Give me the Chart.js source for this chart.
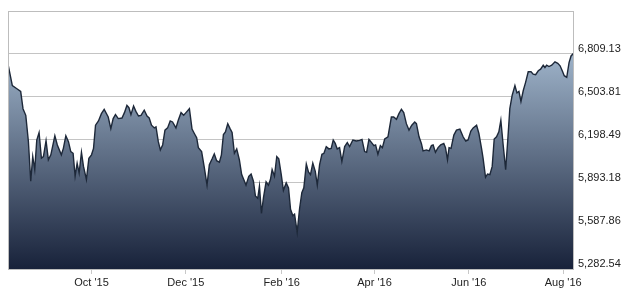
<!DOCTYPE html>
<html>
<head>
<meta charset="utf-8">
<script src="https://cdn.jsdelivr.net/npm/chart.js@4"></script>
<style>
  html, body { margin: 0; padding: 0; background: #fff; }
  #wrap { width: 624px; height: 294px; }
</style>
</head>
<body>
<div id="wrap"><canvas id="indexChart"></canvas></div>
<script>
// days since 8 Aug 2015
const days = [
  0, 2.8, 6.0, 8.2, 9.7, 11.5, 13.2, 14.7, 16.0, 17.3, 18.6, 20.1, 21.6, 22.9, 24.6, 26.1, 27.7, 30.3, 31.9, 34.5,
  35.8, 37.4, 39.1, 40.6, 42.1, 43.4, 44.7, 46.0, 47.5, 48.8, 50.7, 52.3, 54.0, 55.3, 56.6, 58.5, 60.4, 62.2, 64.8, 66.5,
  68.0, 69.5, 71.3, 73.7, 75.3, 76.9, 78.2, 79.5, 81.2, 82.7, 84.4, 86.0, 88.1, 89.9, 91.3, 92.8, 94.6, 95.7, 97.2, 98.5,
  100.0, 101.5, 103.2, 104.9, 106.4, 108.6, 110.1, 111.9, 113.6, 115.1, 117.3, 119.0, 120.5, 122.0, 123.1, 125.2, 127.0, 128.7, 130.2, 132.0,
  133.4, 134.9, 136.7, 138.0, 139.3, 140.6, 142.1, 143.6, 144.9, 146.4, 147.9, 149.6, 151.1, 152.9, 153.9, 155.7, 157.2, 158.7, 160.0, 161.5,
  162.6, 163.9, 165.2, 166.9, 168.4, 169.7, 170.8, 172.3, 173.8, 175.1, 176.7, 178.1, 179.9, 181.4, 182.7, 184.2, 185.3, 187.0, 188.5, 190.0,
  191.3, 192.9, 194.3, 195.6, 197.1, 198.7, 200.0, 201.5, 203.0, 204.3, 205.8, 207.5, 209.0, 210.3, 211.6, 212.9, 214.4, 215.9, 217.7, 219.4,
  220.9, 223.0, 225.2, 227.4, 228.9, 230.6, 231.9, 233.4, 235.0, 236.6, 237.7, 239.2, 240.8, 242.1, 243.6, 245.7, 247.9, 249.4, 251.2, 252.8,
  254.4, 255.9, 257.6, 259.3, 261.1, 263.0, 264.1, 265.8, 267.3, 268.4, 270.6, 272.3, 273.8, 274.9, 276.4, 278.1, 279.8, 281.8, 282.9, 284.2,
  285.2, 286.5, 288.3, 290.0, 292.2, 294.3, 296.0, 297.5, 299.3, 300.8, 303.0, 304.5, 306.2, 307.2, 308.8, 310.1, 311.6, 313.1, 314.4, 315.9,
  317.4, 318.7, 320.2, 321.8, 323.1, 324.5, 326.0, 327.8, 329.1, 330.4, 331.7, 333.2, 334.7, 336.4, 338.2, 339.6, 341.2, 342.9, 344.4, 346.1,
  347.2, 348.3, 349.8, 351.6, 353.7, 355.5, 357.0, 358.4, 359.7, 361.3, 362.8, 364.1, 365.6
];
const closes = [
  6734, 6583, 6559, 6541, 6419, 6372, 6185, 5905, 6080, 5987, 6197, 6250, 6068, 6080, 6192, 6057, 6092, 6227, 6162, 6092,
  6138, 6227, 6185, 6115, 6103, 5940, 6033, 5963, 6110, 6010, 5917, 6068, 6092, 6138, 6302, 6332, 6384, 6414, 6360, 6278,
  6349, 6377, 6349, 6353, 6391, 6442, 6426, 6377, 6438, 6400, 6367, 6372, 6409, 6367, 6353, 6302, 6283, 6290, 6185, 6127,
  6162, 6267, 6283, 6332, 6325, 6283, 6337, 6391, 6372, 6391, 6419, 6274, 6243, 6213, 6143, 6115, 5998, 5877, 6022, 6064,
  6099, 6050, 6040, 6092, 6236, 6255, 6313, 6278, 6250, 6103, 6134, 6057, 5952, 5905, 5877, 5940, 5956, 5905, 5800, 5784,
  5870, 5676, 5788, 5900, 5877, 5917, 5987, 5940, 6080, 6064, 5952, 5840, 5893, 5858, 5706, 5660, 5671, 5542, 5706, 5823,
  5858, 6026, 5970, 5952, 6033, 5975, 5877, 6022, 6096, 6103, 6150, 6134, 6138, 6197, 6173, 6134, 6143, 6045, 6150, 6178,
  6150, 6197, 6190, 6194, 6201, 6115, 6110, 6201, 6180, 6157, 6162, 6096, 6157, 6143, 6204, 6220, 6360, 6360, 6344, 6384,
  6414, 6391, 6313, 6267, 6302, 6325, 6313, 6220, 6173, 6120, 6127, 6120, 6157, 6162, 6110, 6143, 6162, 6173, 6143, 6057,
  6143, 6138, 6232, 6267, 6274, 6220, 6190, 6197, 6260, 6283, 6302, 6243, 6138, 6068, 5933, 5956, 5952, 6010, 6204, 6220,
  6255, 6337, 6162, 5987, 6185, 6419, 6513, 6583, 6531, 6541, 6470, 6548, 6606, 6681, 6681, 6664, 6660, 6688, 6699, 6727,
  6711, 6727, 6718, 6727, 6751, 6741, 6723, 6688, 6653, 6641, 6746, 6793, 6811
];
const tickDays = [54, 115, 177, 237, 298, 359];
const tickLabels = ["Oct '15", "Dec '15", "Feb '16", "Apr '16", "Jun '16", "Aug '16"];
const levelTicks = [5282.54, 5587.86, 5893.18, 6198.49, 6503.81, 6809.13];

const points = days.map((d, i) => ({ x: d, y: closes[i] }));

const frame = {
  id: 'frame',
  afterDatasetsDraw(chart) {
    const a = chart.chartArea;
    const c = chart.ctx;
    c.save();
    c.strokeStyle = '#bdbdbd';
    c.lineWidth = 1;
    c.strokeRect(Math.round(a.left) + 0.5, Math.round(a.top) + 0.5,
      Math.round(a.right - a.left) - 1, Math.round(a.bottom - a.top));
    c.restore();
  }
};

const ctx = document.getElementById('indexChart').getContext('2d');
new Chart(ctx, {
  type: 'line',
  data: {
    datasets: [{
      data: points,
      borderColor: '#1d2839',
      borderWidth: 1.4,
      pointRadius: 0,
      tension: 0,
      fill: 'start',
      backgroundColor: (context) => {
        const area = context.chart.chartArea;
        if (!area) return '#6d8196';
        const g = context.chart.ctx.createLinearGradient(0, area.top, 0, area.bottom);
        g.addColorStop(0, '#b9d0e6');
        g.addColorStop(1, '#18223a');
        return g;
      }
    }]
  },
  options: {
    responsive: true,
    maintainAspectRatio: false,
    animation: false,
    layout: { padding: { left: 8, top: 6, right: 0, bottom: 0 } },
    plugins: {
      legend: { display: false },
      tooltip: { enabled: false }
    },
    scales: {
      x: {
        type: 'linear',
        min: 0,
        max: 366,
        afterBuildTicks: (s) => { s.ticks = tickDays.map(v => ({ value: v })); },
        afterFit: (s) => { s.height = 25; },
        ticks: {
          autoSkip: false,
          maxRotation: 0,
          padding: 2,
          color: '#222',
          font: { family: 'Liberation Sans, Arial', size: 11 },
          callback: (v) => tickLabels[tickDays.indexOf(v)]
        },
        grid: { drawOnChartArea: false, tickLength: 5, color: '#c8c8c8' },
        border: { display: false }
      },
      y: {
        position: 'right',
        min: 5282.54,
        max: 7114.45,
        afterBuildTicks: (s) => { s.ticks = levelTicks.map(v => ({ value: v })); },
        afterFit: (s) => { s.width = 50; },
        ticks: {
          padding: 4,
          labelOffset: -5,
          color: '#222',
          font: { family: 'Liberation Sans, Arial', size: 11 },
          callback: (v) => v.toLocaleString('en-US', { minimumFractionDigits: 2, maximumFractionDigits: 2 })
        },
        grid: { drawTicks: false, color: '#c4c4c4' },
        border: { display: false }
      }
    }
  },
  plugins: [frame]
});
</script>
</body>
</html>
